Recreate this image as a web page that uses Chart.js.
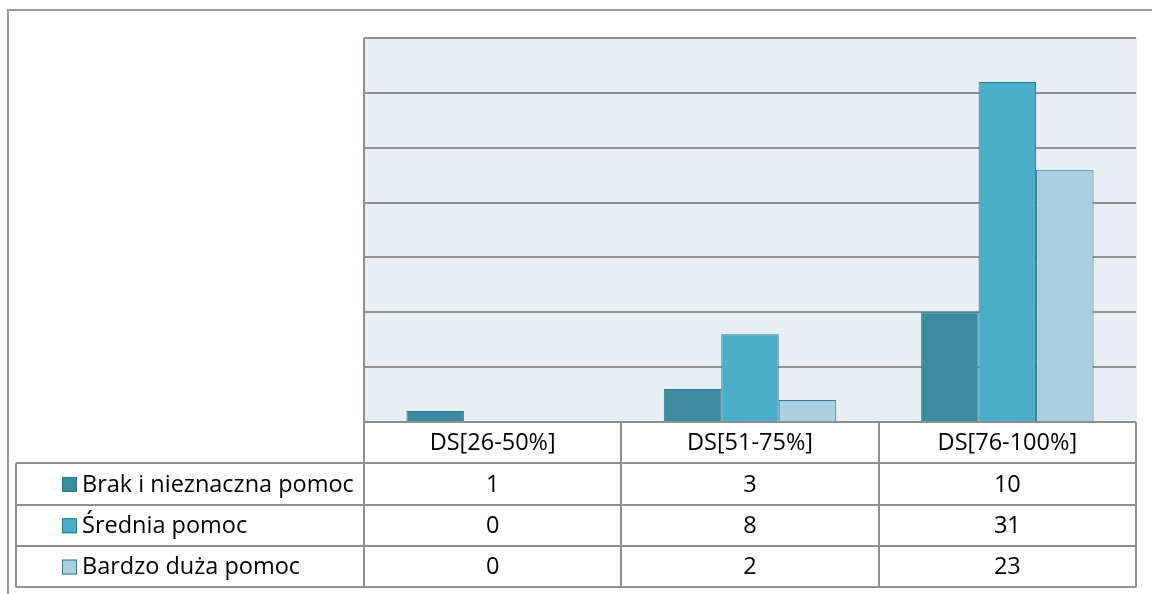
<!DOCTYPE html>
<html>
<head>
<meta charset="utf-8">
<script src="https://cdn.jsdelivr.net/npm/chart.js@4"></script>
<style>
  html, body { margin: 0; padding: 0; background: #fff; }
  #c { display: block; }
</style>
</head>
<body>
<canvas id="c" width="1152" height="594"></canvas>
<script>
// categories and series (count of answers per group)
const categories = ["DS[26-50%]", "DS[51-75%]", "DS[76-100%]"];
const seriesNames = ["Brak i nieznaczna pomoc", "Średnia pomoc", "Bardzo duża pomoc"];
const brak = [1, 3, 10];
const srednia = [0, 8, 31];
const duza = [0, 2, 23];
const yTicks = [0, 5, 10, 15, 20, 25, 30, 35];

const colors = ["#3a8ba1", "#4aaec8", "#a9d0e0"];
const edge = "#2d7a8f";
const FONT = '"Open Sans", sans-serif';

// plot background + outer frame
const frame = {
  id: "frame",
  beforeDraw(chart) {
    const { ctx, chartArea: a } = chart;
    ctx.save();
    ctx.fillStyle = "#e8eff3";
    ctx.fillRect(a.left, a.top, a.right - a.left + 1, a.bottom - a.top);
    ctx.strokeStyle = "#9a9a9a";
    ctx.lineWidth = 2;
    ctx.beginPath();
    ctx.moveTo(8, 594); ctx.lineTo(8, 10); ctx.lineTo(1152, 10);
    ctx.stroke();
    ctx.restore();
  }
};

// data table under the plot, columns follow the x scale
const dataTable = {
  id: "dataTable",
  afterDraw(chart) {
    const { ctx, chartArea: a, scales: { x } } = chart;
    const rowH = 41.3, labelLeft = 16;
    const top = a.bottom, bottom = a.bottom + rowH * 4;
    const colW = (a.right - a.left) / categories.length;
    const rows = [brak, srednia, duza];
    ctx.save();
    ctx.strokeStyle = "#8f8f8f";
    ctx.lineWidth = 2;
    ctx.beginPath();
    // left edge of plot and table
    ctx.moveTo(a.left, a.top); ctx.lineTo(a.left, bottom);
    for (let i = 1; i <= categories.length; i++) {
      const cx = Math.round(a.left + colW * i);
      ctx.moveTo(cx, top); ctx.lineTo(cx, bottom);
    }
    ctx.moveTo(labelLeft, top + rowH); ctx.lineTo(labelLeft, bottom);
    ctx.moveTo(a.left, top); ctx.lineTo(a.right, top);
    for (let r = 1; r <= 4; r++) {
      const y = Math.round(top + rowH * r);
      ctx.moveTo(labelLeft, y); ctx.lineTo(a.right, y);
    }
    ctx.stroke();

    ctx.fillStyle = "#000";
    ctx.font = "23.5px " + FONT;
    ctx.textAlign = "center";
    ctx.textBaseline = "middle";
    categories.forEach((c, i) => {
      ctx.fillText(c, x.getPixelForValue(i), top + rowH / 2 + 1);
    });
    rows.forEach((vals, r) => {
      const cy = top + rowH * (r + 1) + rowH / 2 + 1;
      vals.forEach((v, i) => ctx.fillText(String(v), x.getPixelForValue(i), cy));
      // legend key
      ctx.fillStyle = colors[r];
      ctx.fillRect(62, cy - 8, 15, 15);
      ctx.strokeStyle = edge;
      ctx.lineWidth = 1;
      ctx.strokeRect(62.5, cy - 7.5, 14, 14);
      ctx.fillStyle = "#000";
      ctx.textAlign = "left";
      ctx.fillText(seriesNames[r], 82, cy);
      ctx.textAlign = "center";
    });
    ctx.restore();
  }
};

new Chart(document.getElementById("c"), {
  type: "bar",
  data: {
    labels: categories,
    datasets: [brak, srednia, duza].map((d, i) => ({
      label: seriesNames[i],
      data: d,
      backgroundColor: colors[i],
      borderColor: edge,
      borderWidth: 1,
      categoryPercentage: 0.67,
      barPercentage: 1.0,
    })),
  },
  options: {
    responsive: false,
    animation: false,
    events: [],
    layout: { padding: { left: 364, top: 38, right: 16, bottom: 172 } },
    plugins: { legend: { display: false }, tooltip: { enabled: false } },
    scales: {
      x: { display: false },
      y: {
        min: yTicks[0], max: yTicks[yTicks.length - 1],
        afterBuildTicks: s => { s.ticks = yTicks.map(v => ({ value: v })); },
        ticks: { display: false },
        border: { display: false },
        grid: { color: "#8f8f8f", lineWidth: 2, drawTicks: false, tickLength: 0 },
        afterFit: s => { s.width = 0; },
      },
    },
  },
  plugins: [frame, dataTable],
});
</script>
</body>
</html>
